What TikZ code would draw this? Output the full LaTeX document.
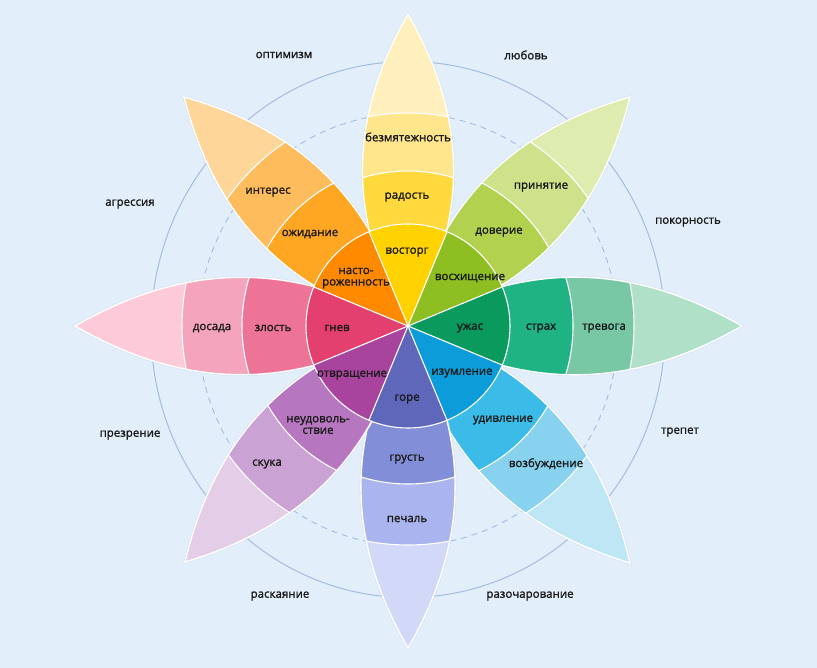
\documentclass[tikz,border=0pt]{standalone}
\usepackage{fontspec}
\setmainfont{Open Sans}
\newfontfamily\lblfont{Open Sans}[FakeBold=1.5]
\definecolor{bg}{HTML}{E3EEFB}
\definecolor{ringc}{HTML}{A3BCE3}
\definecolor{txt}{HTML}{1A1A1A}
\definecolor{shad}{HTML}{C9D6E8}
% top (yellow)
\definecolor{cya}{HTML}{FFD200}\definecolor{cyb}{HTML}{FFD93D}\definecolor{cyc}{HTML}{FFE58C}\definecolor{cyd}{HTML}{FFF0BD}
% upper right (lime)
\definecolor{cla}{HTML}{8DBE22}\definecolor{clb}{HTML}{B2D14E}\definecolor{clc}{HTML}{CDE28A}\definecolor{cld}{HTML}{DEECB0}
% right (green)
\definecolor{cga}{HTML}{0B9A5D}\definecolor{cgb}{HTML}{1FB383}\definecolor{cgc}{HTML}{78C8A6}\definecolor{cgd}{HTML}{B1E0C9}
% lower right (blue)
\definecolor{cba}{HTML}{0C9CD9}\definecolor{cbb}{HTML}{3BBBE8}\definecolor{cbc}{HTML}{88D1EF}\definecolor{cbd}{HTML}{BEE6F5}
% bottom (indigo)
\definecolor{cia}{HTML}{5F67BB}\definecolor{cib}{HTML}{838ED9}\definecolor{cic}{HTML}{AAB4EE}\definecolor{cid}{HTML}{D2D8F8}
% lower left (purple)
\definecolor{cpa}{HTML}{A8449E}\definecolor{cpb}{HTML}{B677C0}\definecolor{cpc}{HTML}{CAA2D4}\definecolor{cpd}{HTML}{E3CDE7}
% left (red)
\definecolor{cra}{HTML}{E4406F}\definecolor{crb}{HTML}{EE7497}\definecolor{crc}{HTML}{F4A4BC}\definecolor{crd}{HTML}{FCCAD8}
% upper left (orange)
\definecolor{coa}{HTML}{FF8A00}\definecolor{cob}{HTML}{FFA623}\definecolor{coc}{HTML}{FFBC5C}\definecolor{cod}{HTML}{FFD699}
% #1 tip, #2-#4 colours (mid, outer band, tip), #5 #6 band radii
\newcommand\petal[6]{%
  \draw[draw=shad, line width=2.6pt, opacity=0.5] (C) to[bend left=30] (#1) to[bend left=30] (C);
  \begin{scope}
    \clip (C) to[bend left=30] (#1) to[bend left=30] (C);
    \fill[fill=#4] (C) circle (400);
    \fill[fill=#3] (C) circle (#6);
    \fill[fill=#2] (C) circle (#5);
    \draw[white,line width=1.1pt] (C) circle (#5) (C) circle (#6);
  \end{scope}
  \draw[petaledge] (C) to[bend left=30] (#1) to[bend left=30] (C);
}
\newcommand\sect[2]{\fill[fill=#2] (C) -- ++({-#1-22.5}:102) arc[start angle={-#1-22.5}, end angle={-#1+22.5}, radius=102] -- cycle;}
\begin{document}
\begin{tikzpicture}[x=1pt,y=-1pt,
  lbl/.style={font=\lblfont\fontsize{11.5}{11.5}\selectfont, text=txt, inner sep=0pt, align=center},
  ring/.style={draw=ringc, line width=1pt},
  dring/.style={draw=ringc, line width=0.9pt, dash pattern=on 6pt off 5pt},
  petaledge/.style={draw=white, line width=1.4pt}]
\useasboundingbox (0,0) rectangle (817,668);
\fill[bg] (0,0) rectangle (817,668);
\coordinate (C) at (408,326);
\coordinate (R) at (408,329.5);
\draw[ring] (R) ellipse [x radius=257, y radius=268];
\draw[dring] (R) ellipse [x radius=210, y radius=216];
% tips
\coordinate (tN) at (408,14);
\coordinate (tNE) at (630,97);
\coordinate (tE) at (742,326);
\coordinate (tSE) at (630,563);
\coordinate (tS) at (408,648);
\coordinate (tSW) at (185,562);
\coordinate (tW) at (75,326);
\coordinate (tNW) at (184,97);
\petal{tN}{cyb}{cyc}{cyd}{155}{213}
\petal{tNE}{clb}{clc}{cld}{161}{221}
\petal{tE}{cgb}{cgc}{cgd}{165}{226}
\petal{tSE}{cbb}{cbc}{cbd}{161}{221}
\petal{tS}{cib}{cic}{cid}{158}{219}
\petal{tSW}{cpb}{cpc}{cpd}{161}{221}
\petal{tW}{crb}{crc}{crd}{166}{226}
\petal{tNW}{cob}{coc}{cod}{161}{221}
% inner disk
\sect{90}{cya}
\sect{45}{cla}
\sect{0}{cga}
\sect{-45}{cba}
\sect{-90}{cia}
\sect{-135}{cpa}
\sect{180}{cra}
\sect{135}{coa}
\foreach \a in {22.5,67.5,...,337.5} \draw[white,line width=1.1pt] (C) -- ++(\a:102);
\draw[white,line width=1.1pt] (C) circle (102);
% labels
\node[lbl] (l1) at (407,252) {восторг};
\node[lbl] (l2) at (407,197) {радость};
\node[lbl] (l3) at (408,137) {безмятежность};
\node[lbl] (l4) at (470,278) {восхищение};
\node[lbl] (l5) at (499,232) {доверие};
\node[lbl] (l6) at (541,187) {принятие};
\node[lbl] (l7) at (470,328) {ужас};
\node[lbl] (l8) at (541,328) {страх};
\node[lbl] (l9) at (604,328) {тревога};
\node[lbl] (l10) at (462,373) {изумление};
\node[lbl] (l11) at (503,420) {удивление};
\node[lbl] (l12) at (546,464) {возбуждение};
\node[lbl] (l13) at (407,399) {горе};
\node[lbl] (l14) at (407,459) {грусть};
\node[lbl] (l15) at (407,519) {печаль};
\node[lbl] (l16) at (352,375) {отвращение};
\node[lbl] (l17) at (318,425) {неудоволь-\\ствие};
\node[lbl] (l18) at (267,464) {скука};
\node[lbl] (l19) at (337,328) {гнев};
\node[lbl] (l20) at (273,328) {злость};
\node[lbl] (l21) at (212,328) {досада};
\node[lbl] (l22) at (356,278) {насто-\\роженность};
\node[lbl] (l23) at (310,234) {ожидание};
\node[lbl] (l24) at (268,192) {интерес};
% outer labels
\node[lbl] (o1) at (284,55) {оптимизм};
\node[lbl] (o2) at (526,55) {любовь};
\node[lbl] (o3) at (130,204) {агрессия};
\node[lbl] (o4) at (688,222) {покорность};
\node[lbl] (o5) at (130,435) {презрение};
\node[lbl] (o6) at (680,432) {трепет};
\node[lbl] (o7) at (280,596) {раскаяние};
\node[lbl] (o8) at (530,596) {разочарование};
\end{tikzpicture}
\end{document}
